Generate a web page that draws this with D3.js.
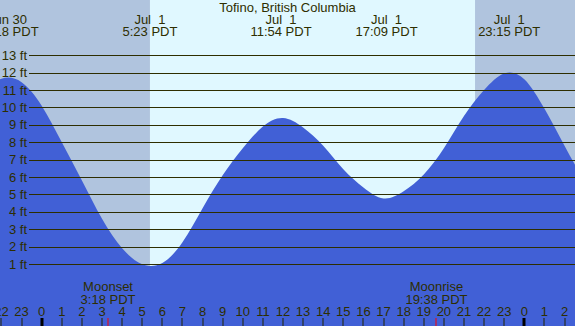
<!DOCTYPE html>
<html>
<head>
<meta charset="utf-8">
<script src="https://cdn.jsdelivr.net/npm/d3@7"></script>
<style>
  body { margin: 0; padding: 0; background: #fff; }
  svg { display: block; }
  text { font-family: "Liberation Sans", Arial, sans-serif; fill: #2e2e00; white-space: pre; }
</style>
</head>
<body>
<svg width="575" height="326"></svg>
<script>
// hours relative to Jul 1 00:00 PDT
var hours = [-3, -2, -1, 0, 1, 2, 3, 4, 5, 6, 7, 8, 9, 10, 11, 12, 13, 14,
             15, 16, 17, 18, 19, 20, 21, 22, 23, 24, 25, 26, 27];
var heights = [10.85, 11.65, 11.45, 10.1, 8.0, 5.8, 3.6, 1.9, 0.99, 1.06, 2.25, 4.2, 6.1, 7.65, 8.9, 9.39,
               8.85, 7.8, 6.45, 5.4, 4.77, 5.18, 6.15, 7.65, 9.5, 11.0, 11.95, 11.62, 9.93, 7.8, 5.7];

// high / low tides shown in the header
var extremeHours = [-1.7, 5.383, 11.9, 17.15, 23.25];
var extremeDates = ["Jun 30", "Jul  1", "Jul  1", "Jul  1", "Jul  1"];
var extremeTimes = ["22:18 PDT", "5:23 PDT", "11:54 PDT", "17:09 PDT", "23:15 PDT"];

var sunrise = 5.383, sunset = 21.55;
var moonEvents = ["Moonset", "Moonrise"];
var moonHours = [3.3, 19.633];
var moonTimes = ["3:18 PDT", "19:38 PDT"];

var feetTicks = [1, 2, 3, 4, 5, 6, 7, 8, 9, 10, 11, 12, 13];
var hourTicks = d3.range(-2, 27);

var svg = d3.select("svg"),
    width = +svg.attr("width"),
    height = +svg.attr("height");

var x = d3.scaleLinear().domain([0, 24]).range([41.7, 524.3]);
var y = d3.scaleLinear().domain([0, 13]).range([281.4, 55.2]);

// sky: night / day
svg.append("rect").attr("x", 0).attr("y", 0).attr("width", width).attr("height", height)
    .attr("fill", "#b0c4de");
svg.append("rect").attr("x", x(sunrise)).attr("y", 0)
    .attr("width", x(sunset) - x(sunrise)).attr("height", height)
    .attr("fill", "#e0f8ff");

// water
var area = d3.area()
    .x(d => x(d))
    .y0(height)
    .y1((d, i) => y(heights[i]))
    .curve(d3.curveNatural);

svg.append("path").datum(hours).attr("d", area).attr("fill", "#4160d6");

// foot lines
var grid = svg.append("g");
grid.selectAll("line").data(feetTicks).enter().append("line")
    .attr("x1", 29).attr("x2", width)
    .attr("y1", d => Math.round(y(d)) + 0.5)
    .attr("y2", d => Math.round(y(d)) + 0.5)
    .attr("stroke", "#2e2e00").attr("stroke-width", 1.2);
grid.selectAll("text").data(feetTicks).enter().append("text")
    .attr("x", 27).attr("y", d => y(d) + 4.5)
    .attr("text-anchor", "end").attr("font-size", 13)
    .text(d => d + " ft");

// header
svg.append("text").attr("x", width / 2).attr("y", 12)
    .attr("text-anchor", "middle").attr("font-size", 13)
    .text("Tofino, British Columbia");

var head = svg.append("g").selectAll("g").data(extremeHours).enter().append("g");
head.append("text").attr("x", d => x(d)).attr("y", 24)
    .attr("text-anchor", "middle").attr("font-size", 13)
    .text((d, i) => extremeDates[i]);
head.append("text").attr("x", d => x(d)).attr("y", 35.5)
    .attr("text-anchor", "middle").attr("font-size", 13)
    .text((d, i) => extremeTimes[i]);

// moon labels
var moon = svg.append("g").selectAll("g").data(moonHours).enter().append("g");
moon.append("text").attr("x", d => x(d)).attr("y", 291)
    .attr("text-anchor", "middle").attr("font-size", 13)
    .text((d, i) => moonEvents[i]);
moon.append("text").attr("x", d => x(d)).attr("y", 303.5)
    .attr("text-anchor", "middle").attr("font-size", 13)
    .text((d, i) => moonTimes[i]);

// hour axis
var axis = svg.append("g");
axis.selectAll("text").data(hourTicks).enter().append("text")
    .attr("x", d => x(d)).attr("y", 316)
    .attr("text-anchor", "middle").attr("font-size", 13)
    .text(d => (d + 24) % 24);
axis.selectAll("rect.tick").data(hourTicks).enter().append("rect")
    .attr("class", "tick")
    .attr("x", d => d % 24 === 0 ? Math.round(x(d)) - 1.5 : Math.round(x(d)) - 0.5)
    .attr("y", 318)
    .attr("width", d => d % 24 === 0 ? 3 : 1)
    .attr("height", 8)
    .attr("fill", d => d % 24 === 0 ? "#000" : "#222200");
axis.selectAll("rect.moon").data(moonHours).enter().append("rect")
    .attr("class", "moon")
    .attr("x", d => Math.round(x(d)) - 0.5).attr("y", 318)
    .attr("width", 1).attr("height", 8)
    .attr("fill", "#ff0000");
</script>
</body>
</html>
